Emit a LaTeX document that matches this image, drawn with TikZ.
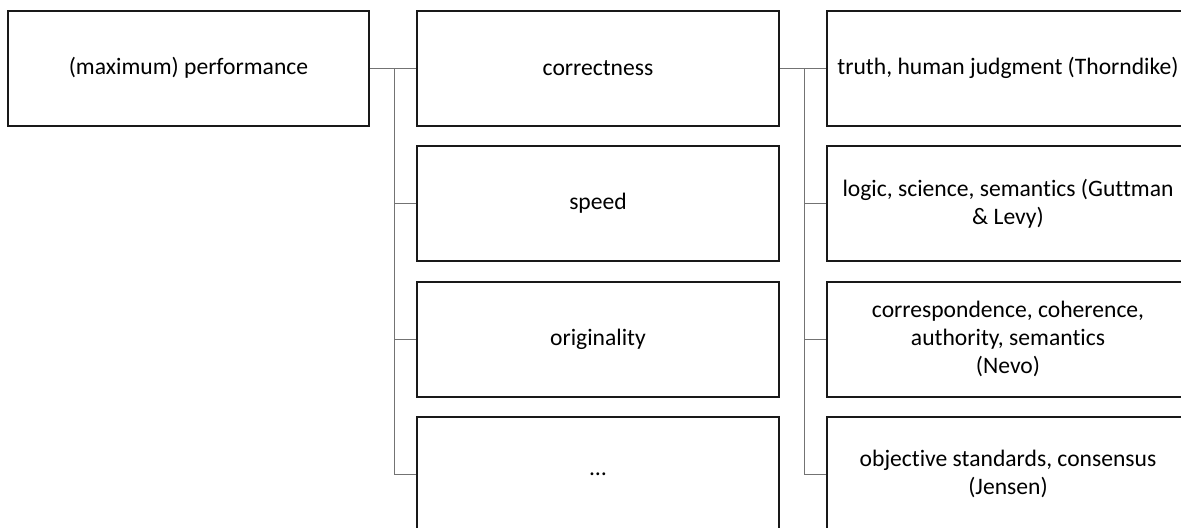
\documentclass[tikz,border=0pt]{standalone}
\usepackage{fontspec}
\setmainfont{Carlito}[Ligatures=NoCommon]
\usepackage{tikz}

\begin{document}
\begin{tikzpicture}[x=0.5pt, y=-0.5pt,
		box/.style={draw=black!90, line width=1pt, minimum width=181pt, minimum height=57.5pt,
			inner sep=0pt, align=center, font=\fontsize{11.8pt}{14pt}\selectfont},
		link/.style={draw=black!55, line width=0.5pt}]
		\useasboundingbox (0,0) rectangle (1181,527);
		\clip (0,0) rectangle (1181,527);

		\node [box, minimum width=180.5pt] (perf) at (188.5, 68) {(maximum) performance};

		\node [box] (corr) at (598, 68) {correctness};
		\node [box] (speed) at (598, 203.5) {speed};
		\node [box] (orig) at (598, 339) {originality};
		\node [box] (more) at (598, 474) {…};

		\node [box] (truth) at (1008, 68) {truth, human judgment (Thorndike)};
		\node [box] (logic) at (1008, 203.5) {logic, science, semantics (Guttman\\\& Levy)};
		\node [box] (nevo) at (1008, 339) {correspondence, coherence,\\authority, semantics\\(Nevo)};
		\node [box] (jensen) at (1008, 474) {objective standards, consensus\\(Jensen)};

		% performance -> aspects
		\draw [link] (perf.east) -- (corr.west);
		\foreach \n in {speed, orig, more}
			\draw [link] (perf.east) -- ++(24,0) |- (\n.west);

		% correctness -> criteria
		\draw [link] (corr.east) -- (truth.west);
		\foreach \n in {logic, nevo, jensen}
			\draw [link] (corr.east) -- ++(24,0) |- (\n.west);
	\end{tikzpicture}
\end{document}
